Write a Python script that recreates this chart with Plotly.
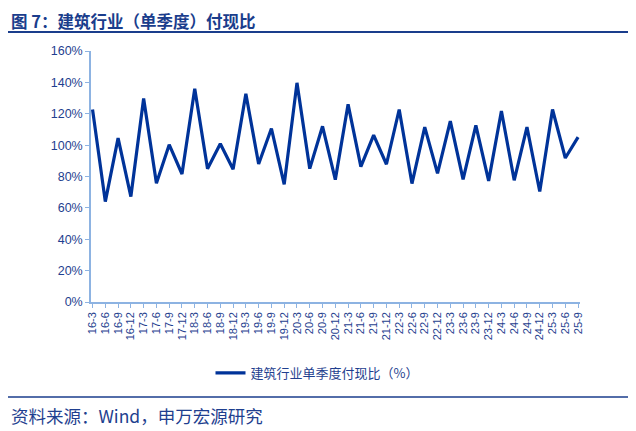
import plotly.graph_objects as go

categories = ["16-3","16-6","16-9","16-12","17-3","17-6","17-9","17-12",
              "18-3","18-6","18-9","18-12","19-3","19-6","19-9","19-12",
              "20-3","20-6","20-9","20-12","21-3","21-6","21-9","21-12",
              "22-3","22-6","22-9","22-12","23-3","23-6","23-9","23-12",
              "24-3","24-6","24-9","24-12","25-3","25-6","25-9"]
ratio = [122.7, 64.0, 104.5, 67.2, 129.7, 75.7, 100.3, 81.6,
         135.9, 85.0, 100.9, 84.6, 132.7, 88.0, 110.6, 75.0,
         139.7, 85.0, 112.0, 78.0, 126.0, 86.3, 106.4, 87.8,
         122.7, 75.5, 111.5, 82.0, 115.3, 78.2, 112.6, 77.2,
         121.7, 77.6, 111.5, 70.4, 122.7, 91.8, 105.1]
y_ticks = [0, 20, 40, 60, 80, 100, 120, 140, 160]
y_labels = [f"{v}%" for v in y_ticks]
series_name = "建筑行业单季度付现比（%）"
title_text = "图 7：建筑行业（单季度）付现比"
source_text = "资料来源：Wind，申万宏源研究"

TXT = "#1F3F8F"
AX = "#8DB3E2"
LINE = "#003399"
CJK = "Noto Sans CJK SC"

OFF = 8  # page body margin
W, H = 636 - OFF, 431 - OFF
L, T = 91 - OFF, 51 - OFF
R = 636 - 580
B = 431 - 302
pw, ph = W - L - R, H - T - B
def px(x): return (x - OFF - L) / pw
def py(y): return (H - B - (y - OFF)) / ph

fig = go.Figure()
fig.add_trace(go.Scatter(x=categories, y=ratio, mode="lines", name=series_name,
                         line=dict(color=LINE, width=3.2)))

fig.update_layout(
    width=W, height=H,
    margin=dict(l=L, r=R, t=T, b=B),
    paper_bgcolor="white", plot_bgcolor="white",
    showlegend=True,
    legend=dict(orientation="h", x=px(317), xanchor="center", y=py(373), yanchor="middle",
                font=dict(family=CJK, size=13, color=TXT), bgcolor="rgba(0,0,0,0)"),
    xaxis=dict(type="category", range=[-0.12, 38.15], showgrid=False,
               tickmode="array", tickvals=categories, ticktext=categories,
               showline=True, linecolor=AX, linewidth=1.5,
               ticks="outside", ticklen=4, tickcolor=AX, tickwidth=1,
               tickangle=-90, tickfont=dict(family="Liberation Sans", size=11, color=TXT)),
    yaxis=dict(range=[0, 160], tickvals=y_ticks, ticktext=y_labels, showgrid=False,
               showline=True, linecolor=AX, linewidth=1.5,
               ticks="outside", ticklen=4, tickcolor=AX, tickwidth=1,
               tickfont=dict(family="Liberation Sans", size=12.5, color=TXT)),
)

fig.add_annotation(text=f"<b>{title_text}</b>", xref="paper", yref="paper",
                   x=px(10), y=py(8.5), xanchor="left", yanchor="top", showarrow=False,
                   borderpad=0, font=dict(family=CJK, size=16.5, color="#1A3D8C"))
fig.add_annotation(text=source_text, xref="paper", yref="paper",
                   x=px(9), y=py(415), xanchor="left", yanchor="middle", showarrow=False,
                   font=dict(family=CJK, size=17.5, color=TXT))
fig.add_shape(type="line", xref="paper", yref="paper", x0=px(8), x1=px(632),
              y0=py(32), y1=py(32), line=dict(color="#1A3D8C", width=2))
fig.add_shape(type="line", xref="paper", yref="paper", x0=px(8), x1=px(636),
              y0=py(397), y1=py(397), line=dict(color="#1A3D8C", width=1.5))

fig.write_html("out.html")
